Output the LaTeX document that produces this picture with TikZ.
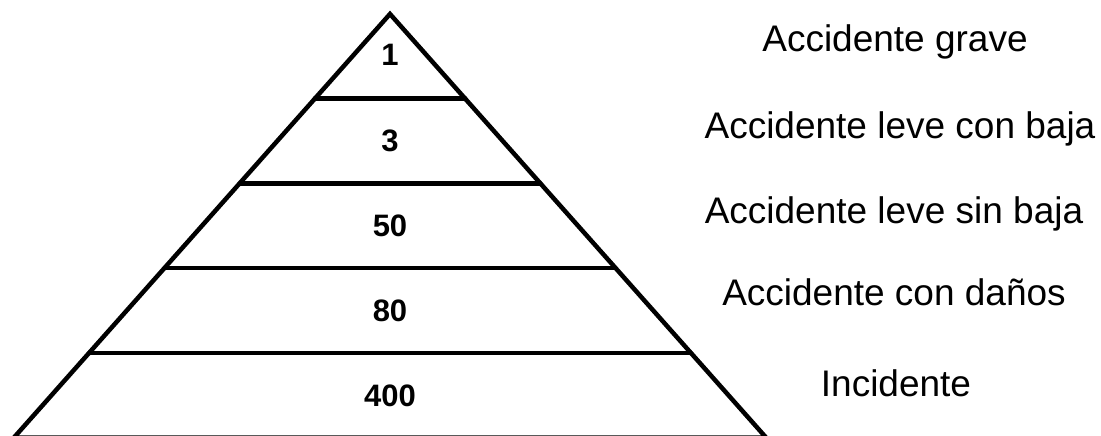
\documentclass[tikz,border=0pt]{standalone}
\usepackage{fontspec}
\setmainfont{Liberation Sans}
\usetikzlibrary{calc}
\begin{document}
\begin{tikzpicture}[x=1pt,y=-1pt,
  edge/.style={line width=4.5pt,black},
  level/.style={line width=4.5pt,black,line cap=round},
  num/.style={font=\fontsize{31}{31}\selectfont\bfseries,anchor=base,inner sep=0pt},
  lab/.style={font=\fontsize{37}{37}\selectfont,anchor=base,inner sep=0pt}]
\useasboundingbox (0,0) rectangle (1101,436);
\coordinate (A) at (390,14);
\coordinate (BL) at (14,437.5);
\coordinate (BR) at (766,437.5);
\foreach \k/\t in {1/0.2,2/0.4,3/0.6,4/0.8}{
  \coordinate (L\k) at ($(A)!\t!(BL)$);
  \coordinate (R\k) at ($(A)!\t!(BR)$);
}
\begin{scope}
\clip (0,0) rectangle (1101,436);
\draw[edge] (BL) -- (A) -- (BR) -- cycle;
\end{scope}
\foreach \k in {1,2,3,4}{\draw[level] (L\k) -- (R\k);}
\node[num] (n1) at (390,66) {1};
\node[num] (n2) at (390,151) {3};
\node[num] (n3) at (390,236) {50};
\node[num] (n4) at (390,321) {80};
\node[num] (n5) at (390,406) {400};
\node[lab] (t1) at (895,52) {Accidente grave};
\node[lab] (t2) at (900,138) {Accidente leve con baja};
\node[lab] (t3) at (894,223) {Accidente leve sin baja};
\node[lab] (t4) at (894,305) {Accidente con daños};
\node[lab] (t5) at (896,396) {Incidente};
\end{tikzpicture}
\end{document}
